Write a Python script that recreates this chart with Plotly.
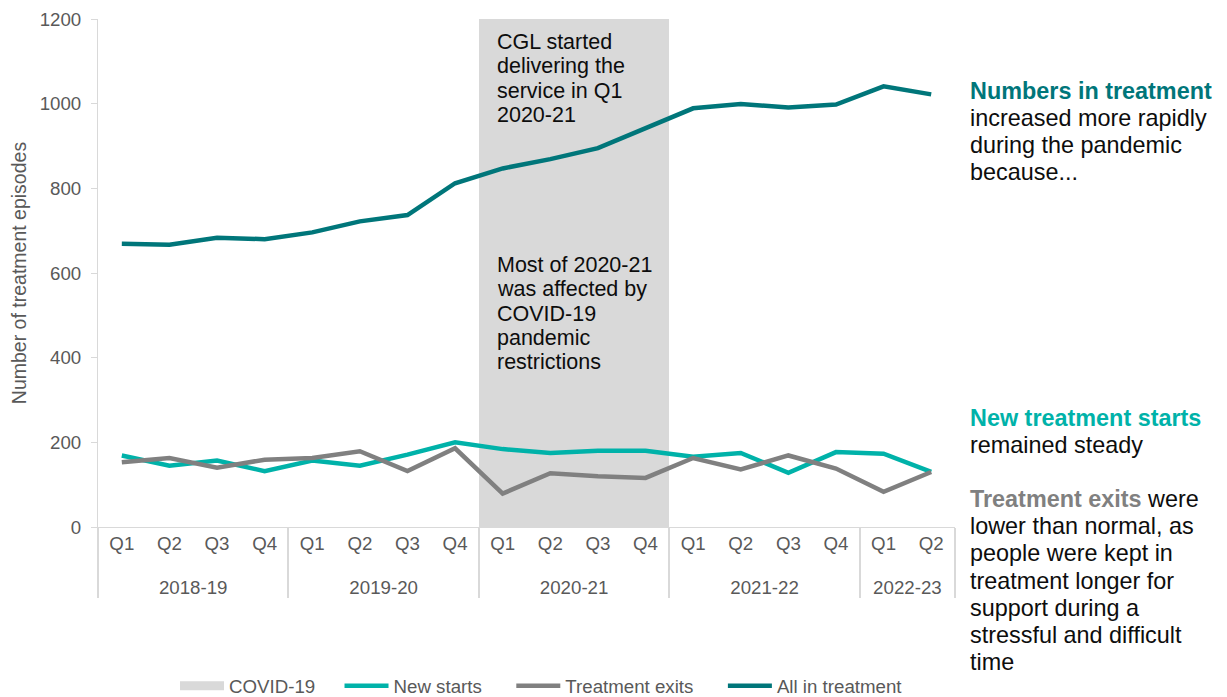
import plotly.graph_objects as go

# fiscal years and quarters (multi-category x axis)
years = ["2018-19"] * 4 + ["2019-20"] * 4 + ["2020-21"] * 4 + ["2021-22"] * 4 + ["2022-23"] * 2
quarters = ["Q1", "Q2", "Q3", "Q4"] * 4 + ["Q1", "Q2"]

new_starts = [169, 145, 157, 132, 157, 145, 171, 200, 184, 175, 180, 180, 166, 175, 128, 177, 173, 130]
treatment_exits = [153, 163, 140, 159, 163, 179, 132, 186, 79, 127, 120, 116, 163, 136, 169, 138, 83, 130]
all_in_treatment = [669, 667, 683, 680, 696, 722, 737, 812, 847, 869, 895, 942, 989, 999, 991, 998, 1041, 1022]

# COVID-19 restriction period shading (full height for 2020-21)
covid_band = [0] * 8 + [1200] * 4 + [0] * 6

DARK_TEAL = "#00767a"
TEAL = "#00b2a9"
GREY = "#808080"
BAND = "#d9d9d9"
TXT = "#0d0d0d"
TICK = "#595959"
FONT = "Liberation Sans, Arial, sans-serif"

# the page body adds an 8px offset, so the figure is a bit smaller than the window
OFF = 8
W, H = 1227 - OFF, 697 - OFF
ML, MT = 98 - OFF, 19 - OFF
PW, PH = 955 - 98, 527 - 19
MR, MB = W - ML - PW, H - MT - PH
NB = "\u00a0"
THIN = "\u2009"
# blank second line pushes the year row further below the quarter row
PUSH = "<br><span style='font-size:1px'>" + NB + "</span>"

x = [years, [q + PUSH for q in quarters]]

fig = go.Figure()

fig.add_trace(go.Bar(x=x, y=covid_band, name="COVID-19", showlegend=False,
                     marker=dict(color=BAND, line=dict(width=0)),
                     hoverinfo="skip"))
# legend swatch for the shaded band
fig.add_trace(go.Scatter(x=[[years[0]], [quarters[0] + PUSH]], y=[None], mode="lines",
                         name="COVID-19" + NB * 3 + THIN, line=dict(color=BAND, width=9)))

fig.add_trace(go.Scatter(x=x, y=new_starts, mode="lines", name="New starts" + NB * 4 + THIN,
                         line=dict(color=TEAL, width=4.5)))
fig.add_trace(go.Scatter(x=x, y=treatment_exits, mode="lines",
                         name="Treatment exits" + NB * 4 + THIN,
                         line=dict(color=GREY, width=4.5)))
fig.add_trace(go.Scatter(x=x, y=all_in_treatment, mode="lines", name="All in treatment",
                         line=dict(color=DARK_TEAL, width=4.5)))


def note(lines, px, py, step, size):
    # one annotation per line so the line spacing matches the original
    for i, t in enumerate(lines):
        fig.add_annotation(x=(px - 2 - OFF - ML) / PW, xref="paper",
                           y=(MT + PH - (py - OFF + i * step)) / PH, yref="paper",
                           xanchor="left", yanchor="middle", align="left",
                           showarrow=False, text=t,
                           font=dict(size=size, color=TXT, family=FONT))


note(["CGL started", "delivering the", "service in Q1", "2020-21"], 497, 42, 24.3, 21.5)
note(["Most of 2020-21", "was affected by", "COVID-19", "pandemic", "restrictions"],
     497, 265, 24.3, 21.5)

note([f"<b><span style='color:{DARK_TEAL}'>Numbers in treatment</span></b>",
      "increased more rapidly", "during the pandemic", "because..."], 970, 91, 27, 23.4)
note([f"<b><span style='color:{TEAL}'>New treatment starts</span></b>",
      "remained steady"], 970, 418, 27, 23.4)
note([f"<b><span style='color:{GREY}'>Treatment exits</span></b> were",
      "lower than normal, as", "people were kept in", "treatment longer for",
      "support during a", "stressful and difficult", "time"], 970, 499, 27.2, 23.4)

fig.update_layout(
    width=W, height=H,
    margin=dict(l=ML, r=MR, t=MT, b=MB),
    plot_bgcolor="white", paper_bgcolor="white",
    font=dict(family=FONT, size=18.7, color=TICK),
    bargap=0,
    legend=dict(orientation="h", xref="container", yref="container",
                x=(175 - OFF) / W, xanchor="left",
                y=(H - (686 - OFF)) / H, yanchor="middle", itemwidth=44,
                font=dict(size=18.7, color=TICK), traceorder="normal"),
    xaxis=dict(type="multicategory", showgrid=False, showline=True, linecolor=BAND,
               showdividers=True, dividercolor=BAND, dividerwidth=1.5,
               ticks="outside", ticklen=9, tickcolor="rgba(0,0,0,0)",
               tickfont=dict(size=18.7, color=TICK), automargin=False),
    yaxis=dict(range=[0, 1200], dtick=200, showgrid=False, zeroline=False,
               showline=True, linecolor=BAND, ticks="outside", ticklen=6, tickcolor=BAND,
               ticklabelstandoff=6, ticklabeloverflow="allow",
               tickfont=dict(size=18.7, color=TICK), automargin=False,
               title=dict(text="Number of treatment episodes", font=dict(size=19.5, color=TICK),
                          standoff=16)),
)

fig.write_html("out.html")
